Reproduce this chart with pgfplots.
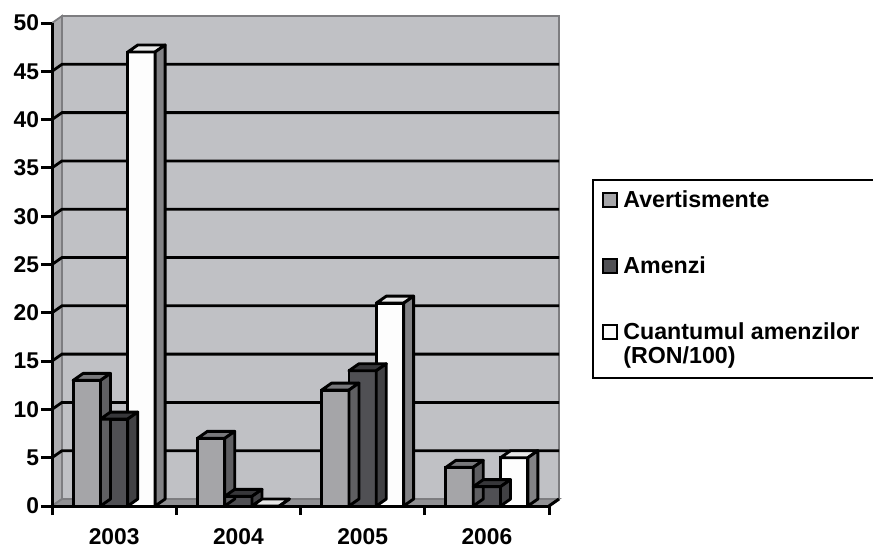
\documentclass[border=0pt]{standalone}
\usepackage{fontspec}
\setmainfont{Liberation Sans}
\usepackage{pgfplots}
\usepackage{pgfplotstable}
\pgfplotsset{compat=1.18}

\definecolor{wallc}{RGB}{192,193,197}
\definecolor{sidewallc}{RGB}{172,172,175}
\definecolor{floorc}{RGB}{145,145,148}
\definecolor{edgec}{RGB}{125,125,128}
\definecolor{avfront}{RGB}{165,165,168}
\definecolor{avtop}{RGB}{120,120,123}
\definecolor{avside}{RGB}{95,95,98}
\definecolor{amfront}{RGB}{80,80,84}
\definecolor{amtop}{RGB}{55,55,58}
\definecolor{amside}{RGB}{65,65,68}
\definecolor{cufront}{RGB}{253,253,253}
\definecolor{cutop}{RGB}{232,232,232}
\definecolor{cuside}{RGB}{130,130,133}

% year avertismente amenzi cuantum
\pgfplotstableread{
x av am cu
0 13 9  47
1 7  1  0
2 12 14 21
3 4  2  5
}\datatable

% top and side face of a 3d bar, drawn at the top centre of the bar
\newcommand\declarebarface[3]{%
  \pgfdeclareplotmark{#1}{%
    \pgfmathsetlengthmacro\barH{\hval*4.83pt}%
    \pgfpathmoveto{\pgfpoint{-6.83pt}{0pt}}%
    \pgfpathlineto{\pgfpoint{6.83pt}{0pt}}%
    \pgfpathlineto{\pgfpoint{11.83pt}{3.5pt}}%
    \pgfpathlineto{\pgfpoint{-1.83pt}{3.5pt}}%
    \pgfpathclose
    \pgfsetfillcolor{#2}%
    \pgfusepath{fill,stroke}%
    \pgfpathmoveto{\pgfpoint{6.83pt}{0pt}}%
    \pgfpathlineto{\pgfpoint{11.83pt}{3.5pt}}%
    \pgfpathlineto{\pgfpoint{11.83pt}{3.5pt-\barH}}%
    \pgfpathlineto{\pgfpoint{6.83pt}{-\barH}}%
    \pgfpathclose
    \pgfsetfillcolor{#3}%
    \pgfusepath{fill,stroke}%
  }}
\declarebarface{faceav}{avtop}{avside}
\declarebarface{faceam}{amtop}{amside}
\declarebarface{facecu}{cutop}{cuside}

\pgfplotsset{
  frontbar/.style={ybar, bar width=0.22, bar shift=0pt, draw=black, line width=1.45pt},
  barface/.style={only marks, mark=#1, mark options={draw=black, line width=1.45pt, solid, line join=round},
    visualization depends on={rawy \as \hval}},
}

\begin{document}
\begin{tikzpicture}
\useasboundingbox (0,0) rectangle (436.5pt,273.5pt);
\clip (0,0) rectangle (436.5pt,273.5pt);
\begin{axis}[
  at={(26pt,20.5pt)}, anchor=south west,
  width=248.5pt, height=241.5pt, scale only axis,
  xmin=-0.5, xmax=3.5, ymin=0, ymax=50,
  axis x line*=bottom, axis y line*=left,
  axis line style={black, line width=1.5pt},
  axis on top, clip=false,
  ytick={0,5,...,50},
  xtick={0,1,2,3}, xticklabels={2003,2004,2005,2006},
  minor xtick={-0.5,0.5,1.5,2.5,3.5},
  major x tick style={draw=none},
  minor x tick style={black, line width=1.5pt},
  y tick style={black, line width=1.5pt},
  tick align=outside,
  major tick length=5.5pt, minor tick length=4.5pt,
  /pgf/number format/assume math mode=true,
  tick label style={font=\fontsize{11.4}{14}\selectfont\bfseries},
  yticklabel style={inner sep=0pt, xshift=-0.8pt},
  xticklabel style={inner sep=0pt, text depth=0pt, yshift=-5.5pt},
]
% side wall, floor and back wall
\filldraw[fill=sidewallc, draw=edgec, line width=0.9pt]
  (-0.5,0) -- (-0.5,50) -- ([shift={(5pt,3.5pt)}]-0.5,50) -- ([shift={(5pt,3.5pt)}]-0.5,0) -- cycle;
\filldraw[fill=floorc, draw=edgec, line width=0.9pt]
  (-0.5,0) -- (3.5,0) -- ([shift={(5pt,3.5pt)}]3.5,0) -- ([shift={(5pt,3.5pt)}]-0.5,0) -- cycle;
\filldraw[fill=wallc, draw=edgec, line width=0.9pt]
  ([shift={(5pt,3.5pt)}]-0.5,0) rectangle ([shift={(5pt,3.5pt)}]3.5,50);
\draw[black, line width=1.5pt] (3.5,0) -- ([shift={(5pt,3.5pt)}]3.5,0);
\pgfplotsinvokeforeach{5,10,...,45}{
  \draw[black, line width=1.4pt] (-0.5,#1) -- ([shift={(5pt,3.5pt)}]-0.5,#1) -- ([shift={(5pt,3.5pt)}]3.5,#1);
}

\addplot[frontbar, fill=avfront] table[x expr=\thisrow{x}-0.22, y=av]{\datatable};
\addplot[barface=faceav] table[x expr=\thisrow{x}-0.22, y=av]{\datatable};
\addplot[frontbar, fill=amfront] table[x=x, y=am]{\datatable};
\addplot[barface=faceam] table[x=x, y=am]{\datatable};
\addplot[frontbar, fill=cufront] table[x expr=\thisrow{x}+0.22, y=cu]{\datatable};
\addplot[barface=facecu] table[x expr=\thisrow{x}+0.22, y=cu]{\datatable};
\end{axis}

% legend
\begin{scope}[font=\fontsize{11.6}{14}\selectfont\bfseries]
\draw[black, line width=1.1pt, fill=white] (296.5pt,84.5pt) rectangle (440pt,183.5pt);
\draw[black, line width=0.9pt, fill=avfront] (301.5pt,170pt) rectangle (308.5pt,177pt);
\node[anchor=base west, inner sep=0pt] at (311.5pt,169.5pt) {Avertismente};
\draw[black, line width=0.9pt, fill=amfront] (301.5pt,137pt) rectangle (308.5pt,144pt);
\node[anchor=base west, inner sep=0pt] at (311.5pt,136.5pt) {Amenzi};
\draw[black, line width=0.9pt, fill=cufront] (301.5pt,104pt) rectangle (308.5pt,111pt);
\node[anchor=base west, inner sep=0pt] at (311.5pt,103.5pt) {Cuantumul amenzilor};
\node[anchor=base west, inner sep=0pt] at (311.5pt,92pt) {(RON/100)};
\end{scope}
\end{tikzpicture}
\end{document}
